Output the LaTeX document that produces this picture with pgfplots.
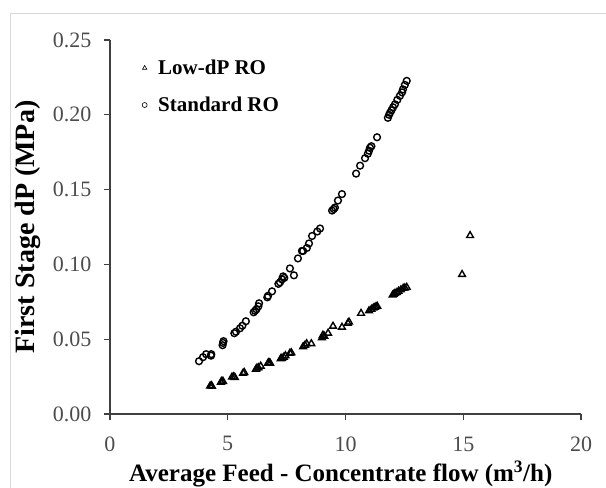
\documentclass[border=0pt]{standalone}
\usepackage{fontspec}
\setmainfont{Liberation Serif}
\usepackage{pgfplots}
\pgfplotsset{compat=1.18}

\begin{document}
\begin{tikzpicture}
\begin{axis}[
  at={(110pt,-414pt)}, anchor=south west,
  scale only axis, width=471pt, height=374pt,
  xmin=0, xmax=20, ymin=0, ymax=0.25,
  axis lines*=left,
  axis line style={black!75, line width=1.3pt},
  tick align=outside, major tick length=6pt,
  tick style={black!75, line width=1.1pt},
  xtick={0,5,10,15,20},
  ytick={0,0.05,0.1,0.15,0.2,0.25},
  /pgf/number format/assume math mode=true,
  yticklabel style={/pgf/number format/fixed, /pgf/number format/fixed zerofill, /pgf/number format/precision=2},
  ticklabel style={font=\fontsize{22}{24}\selectfont, text=black!70},
  xticklabel style={yshift=-13pt},
  yticklabel style={xshift=-9pt},
  xlabel={Average Feed - Concentrate flow (m\textsuperscript{3}/h)},
  ylabel={First Stage dP (MPa)},
  xlabel style={font=\fontsize{25}{28}\selectfont\bfseries, at={(axis description cs:0.49,-0.16)}, anchor=center},
  ylabel style={font=\fontsize{28}{30}\selectfont\bfseries, at={(axis description cs:-0.174,0.5)}, anchor=center},
  legend style={draw=none, fill=none, at={(axis cs:1.23,0.2395)}, anchor=north west,
    font=\fontsize{21}{23}\selectfont\bfseries, row sep=17pt,
    /tikz/every odd column/.append style={column sep=9pt}},
  legend cell align=left,
  legend image post style={mark size=2.5pt, mark options={line width=0.6pt}},
]
\addplot[only marks, mark=triangle, mark size=3.9pt, black, mark options={line width=1.4pt}]
table {
x y
4.25 0.0187
4.30 0.0190
4.33 0.0185
4.71 0.0213
4.75 0.0220
4.80 0.0218
5.18 0.0247
5.25 0.0250
5.30 0.0245
5.65 0.0273
5.70 0.0278
6.20 0.0300
6.24 0.0307
6.30 0.0310
6.40 0.0320
6.71 0.0340
6.75 0.0345
6.80 0.0340
7.25 0.0370
7.30 0.0373
7.38 0.0380
7.45 0.0390
7.64 0.0407
7.70 0.0410
8.20 0.0450
8.28 0.0460
8.35 0.0470
8.55 0.0470
9.00 0.0510
9.04 0.0527
9.10 0.0520
9.26 0.0540
9.47 0.0587
9.85 0.0580
10.10 0.0607
10.15 0.0615
10.66 0.0673
11.00 0.0690
11.10 0.0700
11.18 0.0708
11.25 0.0713
11.30 0.0718
11.35 0.0720
12.00 0.0795
12.05 0.0800
12.10 0.0807
12.18 0.0812
12.25 0.0820
12.35 0.0830
12.45 0.0840
12.52 0.0843
12.60 0.0847
14.95 0.0933
15.29 0.1193
};
\addlegendentry{Low-dP RO}
\addplot[only marks, mark=o, mark size=3.4pt, black, mark options={line width=1.4pt}]
table {
x y
3.78 0.0353
3.95 0.0380
4.08 0.0400
4.29 0.0390
4.30 0.0400
4.78 0.0460
4.80 0.0475
4.82 0.0487
5.28 0.0540
5.35 0.0550
5.52 0.0573
5.62 0.0590
5.77 0.0620
6.10 0.0680
6.16 0.0690
6.22 0.0700
6.30 0.0720
6.33 0.0740
6.68 0.0780
6.71 0.0790
6.88 0.0820
7.15 0.0870
7.22 0.0880
7.30 0.0900
7.35 0.0920
7.40 0.0910
7.64 0.0973
7.81 0.0927
7.98 0.1040
8.15 0.1090
8.20 0.1090
8.36 0.1110
8.45 0.1140
8.58 0.1190
8.80 0.1220
8.92 0.1240
9.43 0.1360
9.50 0.1370
9.55 0.1380
9.68 0.1427
9.85 0.1470
10.45 0.1607
10.62 0.1660
10.83 0.1710
10.95 0.1740
11.00 0.1760
11.04 0.1780
11.10 0.1790
11.34 0.1850
11.80 0.1980
11.85 0.2000
11.89 0.2013
11.95 0.2030
12.02 0.2050
12.10 0.2070
12.20 0.2100
12.31 0.2127
12.40 0.2150
12.44 0.2170
12.52 0.2200
12.60 0.2227
};
\addlegendentry{Standard RO}
\end{axis}
\draw[black!15, line width=1pt] (10pt,-488pt) -- (10pt,-13pt) -- (606pt,-13pt);
\pgfresetboundingbox
\useasboundingbox (0pt,0pt) rectangle (606pt,-488pt);
\end{tikzpicture}
\end{document}
